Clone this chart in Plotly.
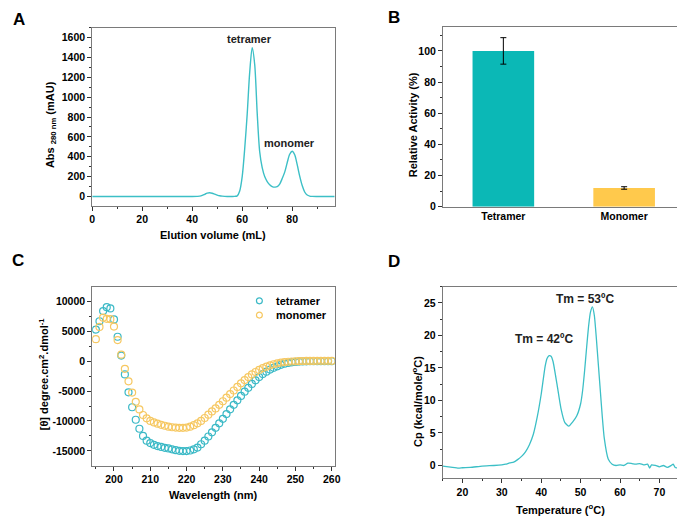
import plotly.graph_objects as go

W, H = 685, 517

# ---------------- Data ----------------
# Panel A: size-exclusion chromatogram
sec_volume = [0, 10, 20, 30, 40, 42, 43, 44, 45, 46, 47, 48, 49, 50, 51, 52, 53, 54, 55, 56,
              57, 58, 59, 60, 61, 62, 63, 64, 65, 66, 67, 68, 69, 70, 71, 72, 73, 74, 75, 76,
              77, 78, 79, 80, 81, 82, 83, 84, 85, 86, 87, 88, 90, 97]
sec_abs = [0, 0, 0, 0, 0, 1, 3, 10, 22, 33, 37, 32, 23, 14, 7, 3, 1, 0, 0, 0,
           1, 6, 55, 200, 480, 830, 1250, 1500, 1330, 840, 450, 290, 200, 150, 118, 100, 94, 98, 125, 180,
           245, 340, 425, 455, 420, 320, 205, 110, 45, 14, 4, 1, 0, 0]
sec_peak_labels = ["tetramer", "monomer"]
sec_peak_label_x = [62.9, 78.9]
sec_peak_label_y = [1584, 538]

# Panel B: relative activity
act_categories = ["Tetramer", "Monomer"]
act_values = [100, 12]
act_errors = [8.5, 0.8]

# Panel C: CD spectra
cd_wavelength = list(range(195, 261))
cd_tetramer = [5300, 6700, 8400, 9050, 8850, 7000, 4100, 950, -2200, -5200,
               -7700, -9800, -11300, -12500, -13300, -13700, -14000, -14200, -14350, -14500,
               -14600, -14750, -14900, -15000, -15050, -15050, -14950, -14750, -14450, -13900,
               -13300, -12600, -11900, -11150, -10400, -9650, -8850, -8050, -7300, -6550,
               -5800, -5100, -4450, -3800, -3200, -2650, -2150, -1750, -1400, -1100,
               -850, -600, -420, -280, -180, -110, -60, -30, -10, 0,
               0, 0, 0, 0, 0, 0]
cd_monomer = [3700, 5750, 7300, 7100, 7050, 5800, 3550, 1100, -1270, -3370,
              -5250, -6800, -8070, -9000, -9560, -10000, -10250, -10450, -10650, -10800,
              -10950, -11050, -11100, -11150, -11150, -11100, -10950, -10700, -10400, -10000,
              -9500, -8950, -8400, -7900, -7300, -6700, -6100, -5500, -4900, -4300,
              -3700, -3150, -2650, -2200, -1800, -1450, -1150, -900, -680, -500,
              -350, -230, -140, -80, -40, -10, 20, 40, 50, 60,
              60, 70, 70, 70, 70, 70]
cd_series_names = ["tetramer", "monomer"]

# Panel D: DSC thermogram
dsc_temp = [15, 17, 19, 20, 22, 25, 28, 30, 31, 32, 33, 34, 35, 36, 37, 38, 39, 40, 41, 41.5, 42, 42.5,
            43, 44, 45, 46, 47, 48, 49, 50, 50.5, 51, 51.5, 52, 52.5, 53, 53.5, 54, 54.5, 55, 55.5, 56, 57, 58, 59, 60, 61, 62,
            63, 64, 65, 66, 67, 67.5, 68, 69, 70, 71, 72, 73, 73.5, 74, 75]
dsc_cp = [-0.1, -0.25, -0.4, -0.35, -0.3, -0.1, 0.0, 0.1, 0.2, 0.4, 0.5, 0.9, 1.4, 2.1, 3.2, 4.8, 7.5, 11.0, 15.3, 16.5, 16.9, 16.8,
          16.0, 12.5, 8.8, 6.6, 6.05, 6.7, 7.6, 9.5, 11.5, 14.5, 18.0, 21.3, 23.6, 24.4, 23.0, 19.5, 15.5, 11.5, 7.5, 4.2, 1.0, 0.2, 0.0, 0.1, 0.0, 0.35,
          0.3, 0.2, 0.3, 0.1, 0.2, -0.4, 0.1, 0.0, -0.2, 0.0, -0.3, 0.0, 0.2, -0.3, -0.4]
dsc_labels = ["Tm = 42ºC", "Tm = 53ºC"]
dsc_label_x = [40.7, 51.2]
dsc_label_y = [19.4, 25.65]

# Tick labels
a_yticks = [0, 200, 400, 600, 800, 1000, 1200, 1400, 1600]
a_xticks = [0, 20, 40, 60, 80]
b_yticks = [0, 20, 40, 60, 80, 100]
c_xticks = [200, 210, 220, 230, 240, 250, 260]
c_yticks = [-15000, -10000, -5000, 0, 5000, 10000]
c_yticktext = ["-15000", "-10000", "-5000", "0", "5000", "10000"]
d_xticks = [20, 30, 40, 50, 60, 70]
d_yticks = [0, 5, 10, 15, 20, 25]

# ---------------- Style ----------------
FONT = "Liberation Sans Narrow, Arial Narrow, Liberation Sans, Arial, sans-serif"
TEAL_LINE = "#3cbfc6"
TEAL_BAR = "#0bb8b6"
YELLOW_BAR = "#ffc94c"
CD_TEAL = "#3bb9c6"
CD_YELLOW = "#f6c862"
FRAME = "#7a7a7a"
TICK_SIZE = 10.5


def px(x):
    return x / W


def py(y):
    return 1 - y / H


def axis_style(**kw):
    d = dict(
        showline=True, mirror=True, linecolor=FRAME, linewidth=1,
        ticks="outside", ticklen=4, tickcolor="#333333", tickwidth=1,
        showgrid=False, zeroline=False,
        tickfont=dict(family=FONT, size=TICK_SIZE, color="black", weight="bold"),
    )
    d.update(kw)
    return d


def minor(dt):
    return dict(dtick=dt, ticks="outside", ticklen=2, tickcolor="#333333", tickwidth=1)


fig = go.Figure()

# A
fig.add_trace(go.Scatter(x=sec_volume, y=sec_abs, mode="lines", line=dict(color=TEAL_LINE, width=1.4, shape="spline", smoothing=0.8),
                         xaxis="x", yaxis="y", showlegend=False))
# B
fig.add_trace(go.Bar(x=act_categories, y=act_values, width=0.51,
                     marker=dict(color=[TEAL_BAR, YELLOW_BAR], line=dict(width=0)),
                     error_y=dict(type="data", array=act_errors, color="black", thickness=1, width=3),
                     xaxis="x2", yaxis="y2", showlegend=False))
# C
fig.add_trace(go.Scatter(x=cd_wavelength, y=cd_tetramer, mode="markers", name=cd_series_names[0],
                         marker=dict(symbol="circle-open", size=7, color=CD_TEAL, line=dict(width=1.2)),
                         xaxis="x3", yaxis="y3", showlegend=False))
fig.add_trace(go.Scatter(x=cd_wavelength, y=cd_monomer, mode="markers", name=cd_series_names[1],
                         marker=dict(symbol="circle-open", size=7, color=CD_YELLOW, line=dict(width=1.2)),
                         xaxis="x3", yaxis="y3", showlegend=False))
# D
fig.add_trace(go.Scatter(x=dsc_temp, y=dsc_cp, mode="lines", line=dict(color=TEAL_LINE, width=1.3, shape="spline", smoothing=0.5),
                         xaxis="x4", yaxis="y4", showlegend=False))

fig.update_layout(
    width=W, height=H, autosize=False,
    margin=dict(l=0, r=0, t=0, b=0),
    paper_bgcolor="white", plot_bgcolor="white",
    font=dict(family=FONT, color="black"),
    xaxis=axis_style(domain=[px(82.3), px(328)], range=[0, 97], tickvals=a_xticks, minor=minor(10), anchor="y"),
    yaxis=axis_style(domain=[py(200), py(20)], range=[-93, 1700], tickvals=a_yticks, minor=minor(100), anchor="x"),
    xaxis2=axis_style(domain=[px(437.7), px(682.5)], type="category", range=[-0.5, 1.5], ticks="", anchor="y2"),
    yaxis2=axis_style(domain=[py(201), py(19.3)], range=[0, 115.3], tickvals=b_yticks, minor=minor(10), anchor="x2"),
    xaxis3=axis_style(domain=[px(82.3), px(328.3)], range=[194, 260.9], tickvals=c_xticks, minor=minor(5), anchor="y3"),
    yaxis3=axis_style(domain=[py(463), py(282)], range=[-17480, 12480], tickvals=c_yticks, ticktext=c_yticktext,
                      minor=minor(2500), anchor="x3"),
    xaxis4=axis_style(domain=[px(437.5), px(677)], range=[15, 75], tickvals=d_xticks, minor=minor(5), anchor="y4"),
    yaxis4=axis_style(domain=[py(476), py(282)], range=[-2, 27.5], tickvals=d_yticks, minor=minor(2.5), anchor="x4"),
)

ann = []


def paper_text(text, x, y, size=11, angle=0, xanchor="center", yanchor="middle", bold=True):
    ann.append(dict(text=(f"<b>{text}</b>" if bold else text), x=px(x), y=py(y), xref="paper", yref="paper",
                    showarrow=False, textangle=angle, xanchor=xanchor, yanchor=yanchor,
                    font=dict(family=FONT, size=size, color="black")))


# Panel letters
paper_text("A", 8, 11.5, size=17, bold=True)
paper_text("B", 388, 10, size=17, bold=True)
paper_text("C", 7, 255, size=17, bold=True)
paper_text("D", 388, 256, size=17, bold=True)

# Axis titles
paper_text("Elution volume (mL)", 205, 230, size=11)
paper_text("Abs <sub>280 nm</sub> (mAU)", 40, 118, size=11, angle=-90)
paper_text("Relative Activity (%)", 407, 118, size=11, angle=-90)
paper_text("Wavelength (nm)", 205, 493, size=11)
paper_text("[θ] degree.cm<sup>2</sup>.dmol<sup>-1</sup>", 33, 370, size=11, angle=-90)
paper_text("Temperature (<sup>o</sup>C)", 557, 507, size=11)
paper_text("Cp (kcal/mole/<sup>o</sup>C)", 412, 398, size=11, angle=-90)

# Data annotations
for t, x, y in zip(sec_peak_labels, sec_peak_label_x, sec_peak_label_y):
    ann.append(dict(text=f"<b>{t}</b>", x=x, y=y, xref="x", yref="y", showarrow=False,
                    font=dict(family=FONT, size=11, color="#222222")))
for t, x, y in zip(dsc_labels, dsc_label_x, dsc_label_y):
    ann.append(dict(text=t, x=x, y=y, xref="x4", yref="y4", showarrow=False,
                    font=dict(family=FONT, size=12, color="#222222", weight="bold")))

# Legend for C
legend_rows = [(296.3, CD_TEAL), (310.7, CD_YELLOW)]
shapes = []
for name, (yy, col) in zip(cd_series_names, legend_rows):
    shapes.append(dict(type="circle", xref="paper", yref="paper",
                       x0=px(251.7 - 3), x1=px(251.7 + 3), y0=py(yy + 3), y1=py(yy - 3),
                       line=dict(color=col, width=1.2), fillcolor="rgba(0,0,0,0)"))
    paper_text(name, 266.5, yy, size=11, xanchor="left")

fig.update_layout(annotations=ann, shapes=shapes)

fig.write_html("out.html")
